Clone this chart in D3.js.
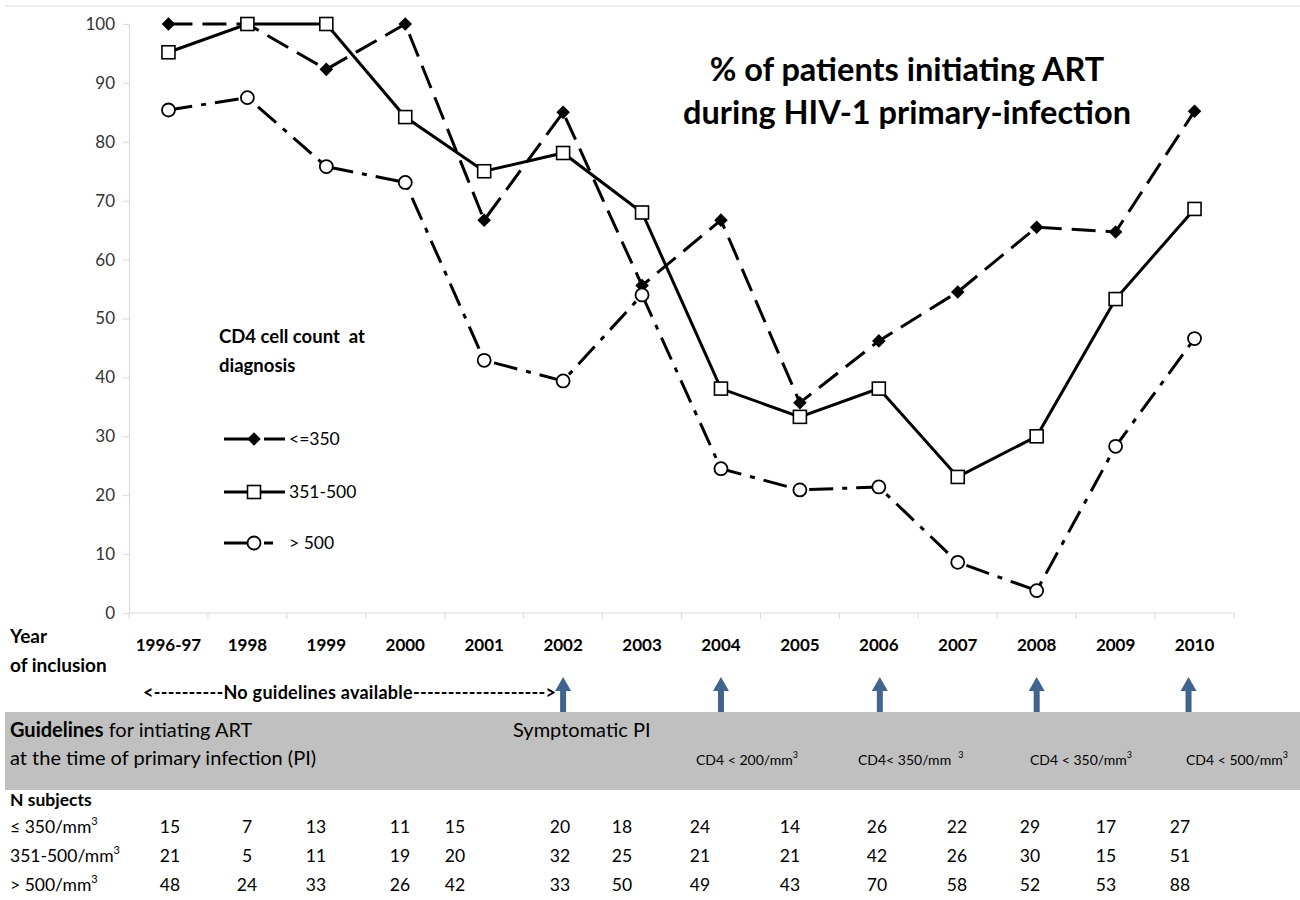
<!DOCTYPE html>
<html>
<head>
<meta charset="utf-8">
<script src="https://cdn.jsdelivr.net/npm/d3@7"></script>
<style>
  html, body { margin: 0; padding: 0; background: #fff; }
  svg { display: block; font-family: Lato, "Open Sans", sans-serif; }
</style>
</head>
<body>
<svg id="chart" width="1300" height="900"></svg>
<script>
/* % of patients initiating ART during HIV-1 primary infection,
   by CD4 count at diagnosis, plus guideline timeline and N table. */

const years = ["1996-97", "1998", "1999", "2000", "2001", "2002", "2003",
               "2004", "2005", "2006", "2007", "2008", "2009", "2010"];

// % initiating ART, per CD4 stratum
const pctLow  = [100, 100, 92.3, 100, 66.7, 85, 55.6, 66.7, 35.7, 46.2, 54.5, 65.5, 64.7, 85.2];
const pctMid  = [95.2, 100, 100, 84.2, 75, 78.1, 68, 38.1, 33.3, 38.1, 23.1, 30, 53.3, 68.6];
const pctHigh = [85.4, 87.5, 75.8, 73.1, 42.9, 39.4, 54, 24.5, 20.9, 21.4, 8.6, 3.8, 28.3, 46.6];

// N subjects per stratum
const nLow  = [15, 7, 13, 11, 15, 20, 18, 24, 14, 26, 22, 29, 17, 27];
const nMid  = [21, 5, 11, 19, 20, 32, 25, 21, 21, 42, 26, 30, 15, 51];
const nHigh = [48, 24, 33, 26, 42, 33, 50, 49, 43, 70, 58, 52, 53, 88];

const seriesNames = ["<=350", "351-500", "> 500"];
const yTicks = [0, 10, 20, 30, 40, 50, 60, 70, 80, 90, 100];

// guideline changes
const guideYears  = ["2002", "2004", "2006", "2008", "2010"];
const guideLabels = ["Symptomatic PI", "CD4 < 200/mm", "CD4< 350/mm  ", "CD4 < 350/mm", "CD4 < 500/mm"];

// ---- layout (not data) ----
const nColX = [170, 247, 316, 400, 455, 560, 622, 700, 790, 877, 957, 1030, 1106, 1180];
const guideLabelX = [513, 696, 858, 1030, 1186];
const arrowShift = [0, 0, 1, 0, -6];

const svg = d3.select("#chart");

const x = d3.scaleBand().domain(years).range([129, 1234]);
const y = d3.scaleLinear().domain([0, 100]).range([613, 24]);
const cx = d => x(d) + x.bandwidth() / 2;

// faint frame line on top
svg.append("line")
  .attr("x1", 5).attr("x2", 1300).attr("y1", 6).attr("y2", 6)
  .attr("stroke", "#e4e4e4").attr("stroke-width", 1.5);

// y axis
const yAxis = svg.append("g")
  .attr("transform", "translate(129,0)")
  .call(d3.axisLeft(y).tickValues(yTicks).tickSize(6).tickSizeOuter(0).tickPadding(8));
yAxis.select(".domain").attr("stroke", "#d9d9d9");
yAxis.selectAll(".tick line").attr("stroke", "#d9d9d9");
yAxis.selectAll(".tick text")
  .attr("font-family", "Lato, sans-serif")
  .attr("font-size", 17).attr("fill", "#333");

// x axis: baseline and category boundary ticks
svg.append("line")
  .attr("x1", x.range()[0]).attr("x2", x.range()[1])
  .attr("y1", y(0)).attr("y2", y(0))
  .attr("stroke", "#d9d9d9");
svg.append("g").selectAll("line")
  .data(years.map(d => x(d)).concat([x.range()[1]]))
  .join("line")
    .attr("x1", d => d).attr("x2", d => d)
    .attr("y1", y(0)).attr("y2", y(0) + 6)
    .attr("stroke", "#d9d9d9");

svg.append("g").selectAll("text")
  .data(years)
  .join("text")
    .attr("x", d => cx(d))
    .attr("y", 651)
    .attr("text-anchor", "middle")
    .attr("font-size", 17).attr("font-weight", 700)
    .text(d => d);

svg.append("text").attr("x", 10).attr("y", 643)
  .attr("font-size", 19).attr("font-weight", 700).text("Year");
svg.append("text").attr("x", 10).attr("y", 672)
  .attr("font-size", 19).attr("font-weight", 700).text("of inclusion");

// series
const series = [
  { name: seriesNames[0], vals: pctLow,  dash: "24,10",    marker: "diamond" },
  { name: seriesNames[1], vals: pctMid,  dash: null,       marker: "square" },
  { name: seriesNames[2], vals: pctHigh, dash: "24,9,5,9", marker: "circle" }
];

const line = d3.line()
  .x((d, i) => cx(years[i]))
  .y(d => y(d));

function drawMarker(g, type, px, py) {
  if (type === "diamond") {
    g.append("rect")
      .attr("x", -4.8).attr("y", -4.8).attr("width", 9.6).attr("height", 9.6)
      .attr("transform", `translate(${px},${py}) rotate(45)`)
      .attr("fill", "#000");
  } else if (type === "square") {
    g.append("rect")
      .attr("x", px - 6.5).attr("y", py - 6.5).attr("width", 13).attr("height", 13)
      .attr("fill", "#fff").attr("stroke", "#000").attr("stroke-width", 1.6);
  } else {
    g.append("circle")
      .attr("cx", px).attr("cy", py).attr("r", 6.5)
      .attr("fill", "#fff").attr("stroke", "#000").attr("stroke-width", 1.8);
  }
}

const linesG = svg.append("g");
series.forEach(s => {
  linesG.append("path")
    .attr("d", line(s.vals))
    .attr("fill", "none")
    .attr("stroke", "#000")
    .attr("stroke-width", 3)
    .attr("stroke-dasharray", s.dash);
});
const markG = svg.append("g");
series.forEach(s => {
  s.vals.forEach((v, i) => drawMarker(markG, s.marker, cx(years[i]), y(v)));
});

// legend
svg.append("text").attr("x", 219).attr("y", 343)
  .attr("font-size", 18.5).attr("font-weight", 700).attr("xml:space", "preserve")
  .text("CD4 cell count  at");
svg.append("text").attr("x", 219).attr("y", 372)
  .attr("font-size", 18.5).attr("font-weight", 700).text("diagnosis");

const legY = [439, 492, 543];
const legEnd = [285, 285, 273];
const legDash = ["28,12,30", null, "28,12,30"];
series.forEach((s, i) => {
  const g = svg.append("g");
  g.append("line")
    .attr("x1", 224).attr("x2", legEnd[i])
    .attr("y1", legY[i]).attr("y2", legY[i])
    .attr("stroke", "#000").attr("stroke-width", 3)
    .attr("stroke-dasharray", legDash[i]);
  drawMarker(g, s.marker, 254, legY[i]);
  g.append("text").attr("x", 289).attr("y", legY[i] + 6)
    .attr("font-size", 17.5).attr("xml:space", "preserve").text(s.name);
});

// title
const title = svg.append("text")
  .attr("text-anchor", "middle").attr("font-size", 32.5).attr("font-weight", 700);
title.append("tspan").attr("x", 907).attr("y", 81).text("% of patients initiating ART");
title.append("tspan").attr("x", 907).attr("y", 124).text("during HIV-1 primary-infection");

// guideline timeline
svg.append("text").attr("x", 143).attr("y", 699)
  .attr("font-size", 18).attr("font-weight", 700)
  .attr("textLength", 413).attr("lengthAdjust", "spacing")
  .text("<----------No guidelines available------------------->");

svg.append("rect")
  .attr("x", 5).attr("y", 712).attr("width", 1295).attr("height", 78)
  .attr("fill", "#c0c0c0");

const arrowG = svg.append("g").attr("fill", "#41648f");
guideYears.forEach((yr, i) => {
  const ax = cx(yr) + arrowShift[i];
  arrowG.append("rect").attr("x", ax - 3).attr("y", 689).attr("width", 6).attr("height", 23);
  arrowG.append("path").attr("d", `M${ax - 8},${691} L${ax},${677} L${ax + 8},${691} Z`);
});

const g1 = svg.append("text").attr("x", 10).attr("y", 737).attr("font-size", 20);
g1.append("tspan").attr("font-weight", 700).text("Guidelines");
g1.append("tspan").text(" for intiating ART");
svg.append("text").attr("x", 10).attr("y", 765).attr("font-size", 20)
  .text("at the time of primary infection (PI)");

guideLabels.forEach((lab, i) => {
  if (i === 0) {
    svg.append("text").attr("x", guideLabelX[i]).attr("y", 737)
      .attr("font-size", 20).text(lab);
  } else {
    const t = svg.append("text").attr("x", guideLabelX[i]).attr("y", 765)
      .attr("font-size", 14).attr("xml:space", "preserve");
    t.append("tspan").text(lab);
    t.append("tspan").attr("dy", -7).attr("font-size", 9).text("3");
  }
});

// N subjects table
svg.append("text").attr("x", 10).attr("y", 806)
  .attr("font-size", 17.5).attr("font-weight", 700).text("N subjects");

const rowLabels = ["\u2264 350/mm", "351-500/mm", "> 500/mm"];
const rowY = [833, 862, 891];
[nLow, nMid, nHigh].forEach((row, r) => {
  const t = svg.append("text").attr("x", 10).attr("y", rowY[r]).attr("font-size", 17.5);
  t.append("tspan").text(rowLabels[r]);
  t.append("tspan").attr("dy", -8).attr("font-size", 11).text("3");
  svg.append("g").selectAll("text")
    .data(row)
    .join("text")
      .attr("x", (d, i) => nColX[i])
      .attr("y", rowY[r])
      .attr("text-anchor", "middle")
      .attr("font-size", 17.5)
      .text(d => d);
});
</script>
</body>
</html>
